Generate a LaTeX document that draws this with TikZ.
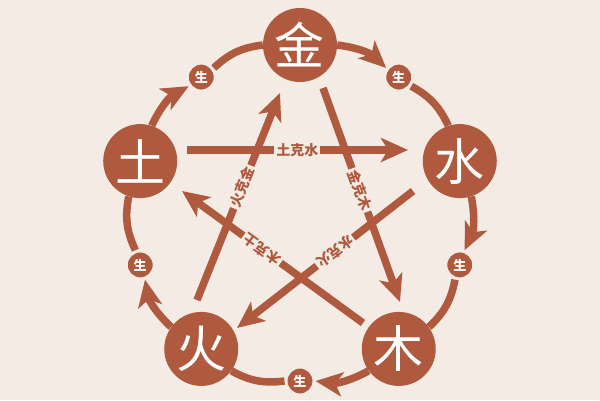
\documentclass[tikz,border=0pt]{standalone}
\usepackage{fontspec}
\newfontfamily\cjk{Noto Sans CJK SC}
\usetikzlibrary{arrows.meta}
\definecolor{bg}{HTML}{F4ECE4}
\definecolor{br}{HTML}{AF5A3E}
\begin{document}
\begin{tikzpicture}[x=1pt,y=1pt,
  big/.style={circle,fill=br,minimum size=74pt,inner sep=0pt,text=white,font=\cjk\fontsize{50}{50}\selectfont},
  sheng/.style={circle,fill=br,draw=bg,line width=3pt,minimum size=28pt,inner sep=0pt,text=white,font=\cjk\bfseries\fontsize{13}{13}\selectfont},
  ringline/.style={draw=br,line width=7.5pt},
  tipped/.style={-{Stealth[length=27pt,width=24pt,inset=7pt]}},
  lbl/.style={fill=bg,inner sep=2pt,text=br,sloped,allow upside down,font=\cjk\bfseries\fontsize{14}{14}\selectfont}
]
\fill[bg] (-300,-187) rectangle (300,213);
\useasboundingbox (-300,-187) rectangle (300,213);
% elements
\node[big] (jin) at (90:168) {金};
\node[big] (shui) at (18:168) {水};
\node[big] (mu) at (-54:168) {木};
\node[big] (huo) at (-126:168) {火};
\node[big] (tu) at (162:168) {土};
% sheng
\node[sheng] (s1) at (54:168) {生};
\node[sheng] (s2) at (-18:168) {生};
\node[sheng] (s3) at (-90:168) {生};
\node[sheng] (s4) at (-162:168) {生};
\node[sheng] (s5) at (126:168) {生};
% generation cycle
\draw[ringline,tipped] (jin) to[bend left=18] (s1);
\draw[ringline] (s1) to[bend left=18] (shui);
\draw[ringline,tipped] (shui) to[bend left=18] (s2);
\draw[ringline] (s2) to[bend left=18] (mu);
\draw[ringline,tipped] (mu) to[bend left=18] (s3);
\draw[ringline] (s3) to[bend left=18] (huo);
\draw[ringline,tipped] (huo) to[bend left=18] (s4);
\draw[ringline] (s4) to[bend left=18] (tu);
\draw[ringline,tipped] (tu) to[bend left=18] (s5);
\draw[ringline] (s5) to[bend left=18] (jin);
% control cycle end points
\coordinate (k1a) at (-113,63);  \coordinate (k1b) at (108,63);
\coordinate (k2a) at (23,125);   \coordinate (k2b) at (100,-89);
\coordinate (k3a) at (63,-110);  \coordinate (k3b) at (-118,22);
\coordinate (k4a) at (113,22);   \coordinate (k4b) at (-63,-115);
\coordinate (k5a) at (-103,-87); \coordinate (k5b) at (-20,120);
\draw[ringline,tipped] (k1a) -- node[lbl,pos=0.50]{土克水} (k1b);
\draw[ringline,tipped] (k2a) -- node[lbl,pos=0.477]{金克木} (k2b);
\draw[ringline,tipped] (k3a) -- node[lbl,pos=0.558]{木克土} (k3b);
\draw[ringline,tipped] (k4a) -- node[lbl,pos=0.443]{水克火} (k4b);
\draw[ringline,tipped] (k5a) -- node[lbl,pos=0.546]{火克金} (k5b);
\end{tikzpicture}
\end{document}
